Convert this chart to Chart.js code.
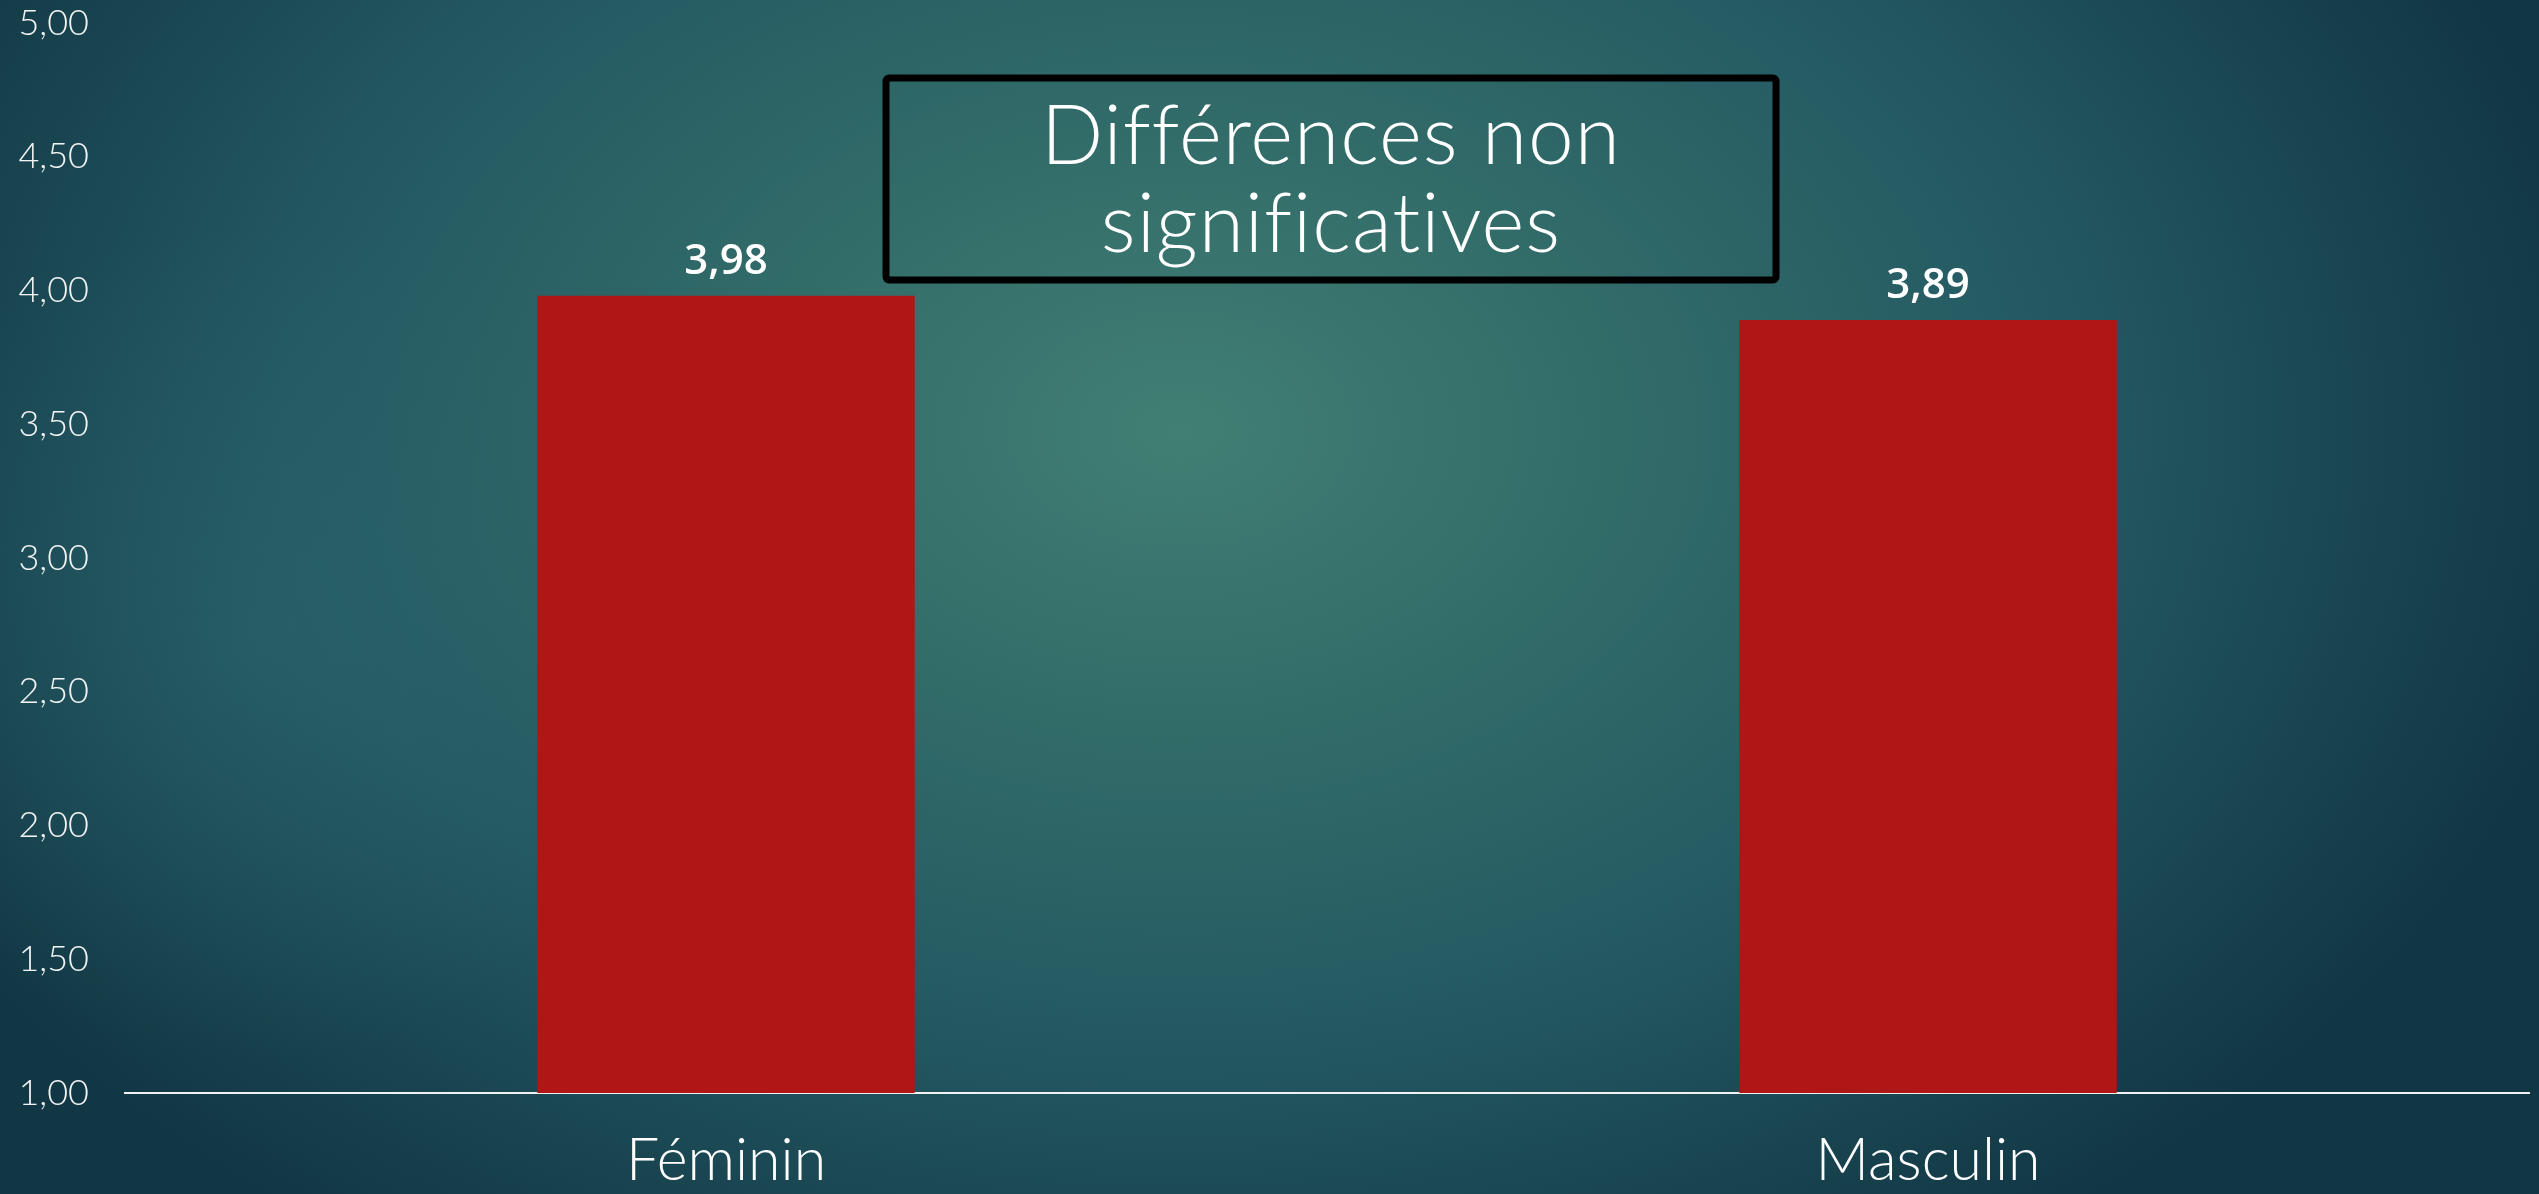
<!DOCTYPE html>
<html>
<head>
<meta charset="utf-8">
<script src="https://cdn.jsdelivr.net/npm/chart.js@4"></script>
<style>
  html, body { margin: 0; padding: 0; width: 2539px; height: 1194px; overflow: hidden; }
  body {
    background:
      radial-gradient(circle 420px at 260px 640px, rgba(45, 105, 112, 0.45), rgba(45, 105, 112, 0)),
      radial-gradient(ellipse 1450px 1000px at 1180px 430px, #417f74 0%, #326c69 30%, #235862 62%, #16404c 88%, #113644 100%);
  }
  #wrap { position: absolute; left: 0; top: 0; width: 2539px; height: 1194px; }
</style>
</head>
<body>
<div id="wrap"><canvas id="barchart"></canvas></div>
<script>
const categories = ["Féminin", "Masculin"];
const scores = [3.98, 3.89];
const yTicks = [1, 1.5, 2, 2.5, 3, 3.5, 4, 4.5, 5];
const noteLines = ["Différences non", "significatives"];

const fmt = (v) => v.toFixed(2).replace(".", ",");

// value labels above the bars
const valueLabels = {
  id: "valueLabels",
  afterDatasetsDraw(chart) {
    const ctx = chart.ctx;
    const meta = chart.getDatasetMeta(0);
    ctx.save();
    ctx.fillStyle = "#ffffff";
    ctx.font = "600 42px 'Open Sans'";
    ctx.textAlign = "center";
    ctx.textBaseline = "alphabetic";
    meta.data.forEach((bar, i) => {
      ctx.fillText(fmt(scores[i]), bar.x, bar.y - 22);
    });
    ctx.restore();
  },
};

// boxed note at the top
const noteBox = {
  id: "noteBox",
  afterDraw(chart) {
    const ctx = chart.ctx;
    const x = 886, y = 78, w = 890, h = 202;
    ctx.save();
    ctx.strokeStyle = "#000000";
    ctx.lineWidth = 7;
    ctx.beginPath();
    ctx.roundRect(x, y, w, h, 3);
    ctx.stroke();
    ctx.fillStyle = "#ffffff";
    ctx.font = "300 82px Lato";
    ctx.letterSpacing = "1px"; // keeps f and i apart like the original
    ctx.textAlign = "center";
    ctx.textBaseline = "middle";
    ctx.fillText(noteLines[0], x + w / 2, 138);
    ctx.fillText(noteLines[1], x + w / 2, 226);
    ctx.restore();
  },
};

new Chart("barchart", {
  type: "bar",
  data: {
    labels: categories,
    datasets: [
      {
        data: scores,
        backgroundColor: "#b01615",
        borderWidth: 0,
        barPercentage: 0.314,
        categoryPercentage: 1,
      },
    ],
  },
  options: {
    responsive: true,
    maintainAspectRatio: false,
    animation: false,
    events: [],
    layout: { padding: { top: 0, right: 10, bottom: 0, left: 0 } },
    plugins: { legend: { display: false }, tooltip: { enabled: false } },
    scales: {
      y: {
        min: 1,
        max: 5,
        afterBuildTicks: (scale) => {
          scale.ticks = yTicks.map((v) => ({ value: v }));
        },
        afterFit: (scale) => {
          scale.width = 125;
          scale.paddingTop = 23;
          scale.paddingBottom = 0;
        },
        grid: { display: false, drawTicks: false },
        border: { display: false },
        ticks: {
          color: "#f2f4f4",
          font: { family: "Lato", size: 36, weight: "300" },
          padding: 36,
          callback: (v) => fmt(v),
        },
      },
      x: {
        afterFit: (scale) => {
          scale.height = 101;
        },
        grid: { display: false, drawTicks: false },
        border: { display: true, color: "#eef2f2", width: 2 },
        ticks: {
          color: "#ffffff",
          font: { family: "Lato", size: 59, weight: "300" },
          padding: 33,
        },
      },
    },
  },
  plugins: [valueLabels, noteBox],
});
</script>
</body>
</html>
